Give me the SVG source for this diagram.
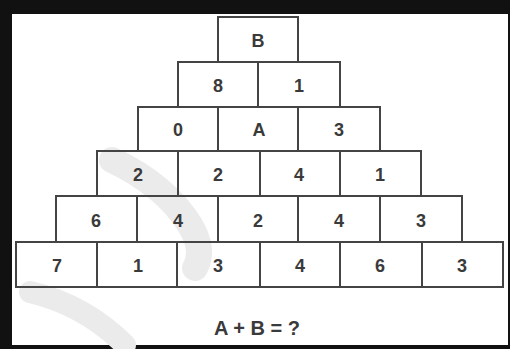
<svg xmlns="http://www.w3.org/2000/svg" width="510" height="349" viewBox="0 0 510 349">
<style>
.c{fill:none;stroke:#444;stroke-width:2}
.t{font-family:"Liberation Sans",Arial,sans-serif;font-weight:bold;font-size:18px;fill:#3a3a3a;text-anchor:middle}
.q{font-size:20px}
.wm{fill:none;stroke:#ebebeb;stroke-linecap:round}
</style>
<rect x="0" y="0" width="510" height="349" fill="#111"/>
<rect x="12" y="14" width="496" height="331" fill="#fff"/>
<g id="watermark">
<path class="wm" stroke-width="26" d="M112 160 Q165 185 190 225 Q205 250 195 268"/>
<path class="wm" stroke-width="22" d="M30 292 Q85 305 125 345"/>
</g>
<g id="row1">
<g id="n-B"><rect class="c" x="218" y="17" width="80" height="45"/><text class="t" x="258" y="47">B</text></g>
</g>
<g id="row2">
<g id="n-2-1"><rect class="c" x="178" y="62" width="80" height="45"/><text class="t" x="218" y="92">8</text></g>
<g id="n-2-2"><rect class="c" x="258" y="62" width="82" height="45"/><text class="t" x="299" y="92">1</text></g>
</g>
<g id="row3">
<g id="n-3-1"><rect class="c" x="138" y="107" width="80" height="44"/><text class="t" x="178" y="136">0</text></g>
<g id="n-A"><rect class="c" x="218" y="107" width="80" height="44"/><text class="t" x="259" y="136">A</text></g>
<g id="n-3-3"><rect class="c" x="298" y="107" width="82" height="44"/><text class="t" x="339" y="136">3</text></g>
</g>
<g id="row4">
<g id="n-4-1"><rect class="c" x="97" y="151" width="81" height="45"/><text class="t" x="138" y="181">2</text></g>
<g id="n-4-2"><rect class="c" x="178" y="151" width="82" height="45"/><text class="t" x="218" y="181">2</text></g>
<g id="n-4-3"><rect class="c" x="260" y="151" width="80" height="45"/><text class="t" x="299" y="181">4</text></g>
<g id="n-4-4"><rect class="c" x="340" y="151" width="81" height="45"/><text class="t" x="380" y="181">1</text></g>
</g>
<g id="row5">
<g id="n-5-1"><rect class="c" x="56" y="196" width="81" height="46"/><text class="t" x="96" y="227">6</text></g>
<g id="n-5-2"><rect class="c" x="137" y="196" width="81" height="46"/><text class="t" x="178" y="227">4</text></g>
<g id="n-5-3"><rect class="c" x="218" y="196" width="80" height="46"/><text class="t" x="258" y="227">2</text></g>
<g id="n-5-4"><rect class="c" x="298" y="196" width="82" height="46"/><text class="t" x="339" y="227">4</text></g>
<g id="n-5-5"><rect class="c" x="380" y="196" width="82" height="46"/><text class="t" x="421" y="227">3</text></g>
</g>
<g id="row6">
<g id="n-6-1"><rect class="c" x="16" y="242" width="81" height="45"/><text class="t" x="57" y="272">7</text></g>
<g id="n-6-2"><rect class="c" x="97" y="242" width="80" height="45"/><text class="t" x="138" y="272">1</text></g>
<g id="n-6-3"><rect class="c" x="177" y="242" width="83" height="45"/><text class="t" x="218" y="272">3</text></g>
<g id="n-6-4"><rect class="c" x="260" y="242" width="80" height="45"/><text class="t" x="300" y="272">4</text></g>
<g id="n-6-5"><rect class="c" x="340" y="242" width="82" height="45"/><text class="t" x="380" y="272">6</text></g>
<g id="n-6-6"><rect class="c" x="422" y="242" width="81" height="45"/><text class="t" x="462" y="272">3</text></g>
</g>
<g id="question"><text class="t q" x="257" y="335">A + B = ?</text></g>
<g id="connectors"></g>
</svg>
